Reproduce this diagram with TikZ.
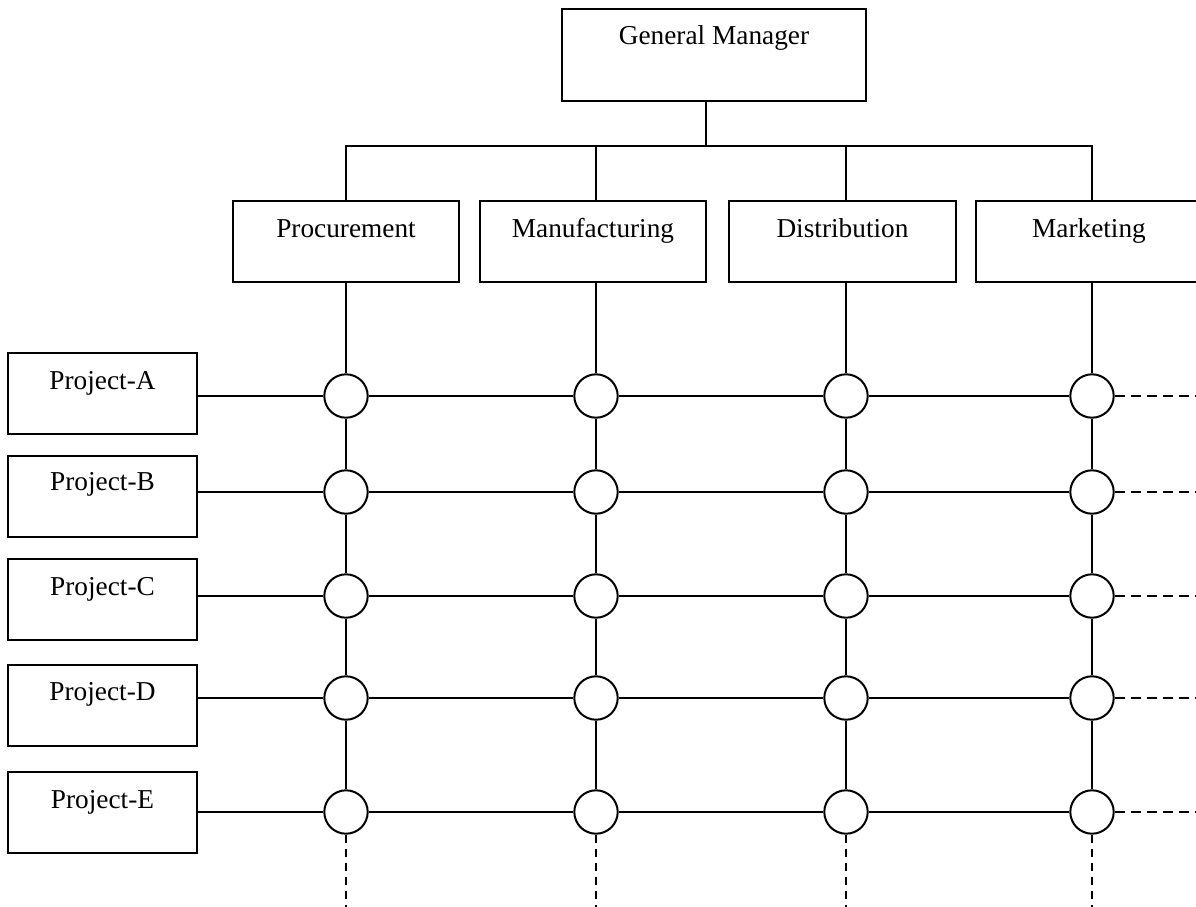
\documentclass[tikz,border=0pt]{standalone}
\usepackage{fontspec}
\setmainfont{Liberation Serif}
\usetikzlibrary{calc}
\begin{document}
\begin{tikzpicture}[x=1pt,y=-1pt,
  box/.style={draw, line width=2pt, rectangle, inner sep=0pt},
  dept/.style={box, minimum width=226pt, minimum height=81pt},
  proj/.style={box, minimum width=189pt, minimum height=81pt},
  lbl/.style={anchor=base, inner sep=0pt, font=\fontsize{27.3}{30}\selectfont},
  hub/.style={draw, circle, line width=2pt, minimum size=43.4pt, inner sep=0pt, fill=white},
  link/.style={line width=2pt},
  more/.style={line width=2pt, dash pattern=on 10pt off 6pt}]
\useasboundingbox (0,0) rectangle (1196,907);
\clip (0,0) rectangle (1196,907);

% top of the hierarchy
\node[box, minimum width=304pt, minimum height=92pt] (gm) at (714,55) {};
\node[lbl] (gmt) at (714,45) {General Manager};

% functional departments
\node[dept] (proc) at (346,241) {};
\node[dept] (manu) at (593,241) {};
\node[dept, minimum width=227pt] (dist) at (842.5,241) {};
\node[dept] (mark) at (1089,241) {};
\node[lbl] (proct) at (346,237) {Procurement};
\node[lbl] (manut) at (593,237) {Manufacturing};
\node[lbl] (distt) at (842.5,237) {Distribution};
\node[lbl] (markt) at (1089,237) {Marketing};

% reporting lines from the general manager
\coordinate (bus) at (706,146);
\draw[link] (gm.south -| bus) -- (bus);
\coordinate (busL) at (346,146);
\coordinate (busM) at (596,146);
\coordinate (busD) at (846,146);
\coordinate (busR) at (1092,146);
\draw[link] (proc.north -| busL) -- (busL) -- (busR) -- (mark.north -| busR);
\draw[link] (busM) -- (manu.north -| busM);
\draw[link] (busD) -- (dist.north -| busD);

% project boxes
\foreach \r/\cy/\ty in {A/393.5/389,B/496/490,C/599.5/595,D/705/700,E/812.5/808}{
  \node[proj] (p\r) at (102.5,\cy) {};
  \node[lbl] (p\r t) at (102.5,\ty) {Project-\r};
}

% matrix intersections
\foreach \r/\y in {A/396,B/492,C/596,D/698,E/812}{
  \foreach \c/\x in {1/346,2/596,3/846,4/1092}
    \node[hub] (h\r\c) at (\x,\y) {};
  \coordinate (x\r) at (1196,\y);
  \draw[link] (p\r.east |- h\r1) -- (h\r1.west);
  \draw[link] (h\r1.east) -- (h\r2.west);
  \draw[link] (h\r2.east) -- (h\r3.west);
  \draw[link] (h\r3.east) -- (h\r4.west);
  \draw[more] (h\r4.east) -- (x\r);
}

% vertical lines down each department
\foreach \d/\c in {proc/1,manu/2,dist/3,mark/4}{
  \coordinate (y\c) at ($(hE\c) + (0,95)$);
  \draw[link] (\d.south -| hA\c) -- (hA\c.north);
  \draw[link] (hA\c.south) -- (hB\c.north);
  \draw[link] (hB\c.south) -- (hC\c.north);
  \draw[link] (hC\c.south) -- (hD\c.north);
  \draw[link] (hD\c.south) -- (hE\c.north);
  \draw[more, dash pattern=on 8pt off 6pt] (hE\c.south) -- (y\c);
}
\end{tikzpicture}
\end{document}
